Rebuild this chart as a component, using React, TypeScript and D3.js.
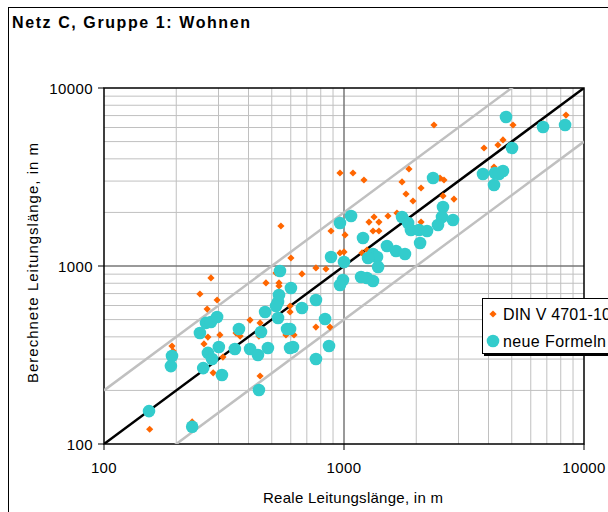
import React from "react";
import * as d3 from "d3";

const cyanX = [154,233,192,190,251,266,279,296,271,282,259,301,310,351,365,406,438,469,451,442,883,1000,541,990,962,601,536,531,521,764,668,531,834,579,596,482,596,613,866,764,2350,1070,962,1745,1850,1900,2054,2218,1200,2075,1510,1647,1795,1321,1373,1259,1387,1178,1247,1321,3794,4258,4217,2585,2560,2464,2846,4732,6750,8340,5012,4424,4597];
const cyanY = [153,125,312,274,420,479,485,517,325,300,267,351,244,342,443,342,316,552,426,201,1124,1053,937,834,782,752,687,628,596,644,581,510,504,443,443,346,346,351,355,300,3120,1910,1744,1885,1744,1592,1592,1573,1436,1346,1296,1214,1168,1168,1124,1109,987,867,857,824,3289,3330,2851,2145,1885,1700,1813,6870,6040,6197,4603,3289,3420];

const orangeX = [279,251,296,269,192,194,261,271,304,355,369,406,447,442,313,285,447,155,233,473,536,536,521,601,668,764,841,596,596,619,573,764,874,962,546,883,1010,962,1000,2371,1090,1211,1865,1745,2094,1813,1938,2394,2512,2610,2585,2872,3831,4380,4597,5060,4217,8414,6750,1525,1334,1271,1398,1662,1321,1398,2094,1189,1247];
const orangeY = [857,696,644,573,355,333,365,399,410,420,404,497,479,404,308,251,241,121,133,803,803,772,914,1109,902,975,962,596,552,410,410,454,454,3330,1678,1573,1494,1184,1199,6197,3330,3042,3506,2966,2742,2538,2318,3162,3120,3042,2474,2378,4603,4783,5106,6197,3597,7047,6282,1910,1885,1766,1766,1985,1573,1573,1766,1184,1230];

const tickValues = [100, 1000, 10000];
const seriesNames = ["DIN V 4701-10", "neue Formeln"];
const title = "Netz C, Gruppe 1: Wohnen";
const xTitle = "Reale Leitungslänge, in m";
const yTitle = "Berechnete Leitungslänge, in m";

const ORANGE = "#FF6600";
const CYAN = "#33CCCC";
const FONT = "Liberation Sans, Arial, sans-serif";

export default function App() {
  const x = d3.scaleLog().domain([100, 10000]).range([104, 584]);
  const y = d3.scaleLog().domain([100, 10000]).range([444, 88]);
  const minor: number[] = [];
  [100, 1000].forEach((d) => {
    for (let k = 2; k <= 9; k++) minor.push(d * k);
  });
  const line = d3.line<[number, number]>().x((d) => x(d[0])).y((d) => y(d[1]));
  const diamond = (cx: number, cy: number, r: number) =>
    `M${cx},${cy - r}L${cx + r},${cy}L${cx},${cy + r}L${cx - r},${cy}Z`;

  return (
    <svg width={608} height={512} style={{ position: "absolute", left: 0, top: 0, background: "#fff" }} fontFamily={FONT}>
      <rect x={0} y={0} width={608} height={512} fill="#fff" />
      <rect x={8.5} y={7.5} width={620} height={520} fill="none" stroke="#000" strokeWidth={1} />
      <text x={12} y={28} fontSize={16} fontWeight="bold" fill="#000" textLength={238} lengthAdjust="spacing">{title}</text>
      <defs>
        <clipPath id="plotclip">
          <rect x={104} y={88} width={480} height={356} />
        </clipPath>
      </defs>
      {minor.map((v) => (
        <g key={"m" + v}>
          <line x1={x(v)} x2={x(v)} y1={88} y2={444} stroke="#c0c0c0" strokeWidth={1} />
          <line x1={104} x2={584} y1={y(v)} y2={y(v)} stroke="#c0c0c0" strokeWidth={1} />
        </g>
      ))}
      <line x1={x(1000)} x2={x(1000)} y1={88} y2={444} stroke="#777" strokeWidth={1.5} />
      <line x1={104} x2={584} y1={y(1000)} y2={y(1000)} stroke="#777" strokeWidth={1.5} />
      <rect x={104} y={88} width={480} height={356} fill="none" stroke="#000" strokeWidth={1.5} />
      {tickValues.map((v) => (
        <g key={"t" + v}>
          <line x1={98} x2={104} y1={y(v)} y2={y(v)} stroke="#000" />
          <line x1={x(v)} x2={x(v)} y1={444} y2={450} stroke="#000" />
          <text x={93} y={y(v) + 5.5} textAnchor="end" fontSize={15} letterSpacing={0.4}>{v}</text>
          <text x={x(v)} y={473} textAnchor="middle" fontSize={15} letterSpacing={0.4}>{v}</text>
        </g>
      ))}
      <g clipPath="url(#plotclip)">
        <path d={line([[100, 200], [10000, 20000]]) || ""} stroke="#c0c0c0" strokeWidth={2.5} fill="none" />
        <path d={line([[100, 50], [10000, 5000]]) || ""} stroke="#c0c0c0" strokeWidth={2.5} fill="none" />
        <path d={line([[100, 100], [10000, 10000]]) || ""} stroke="#000" strokeWidth={2.5} fill="none" />
        {orangeX.map((v, i) => (
          <path key={"o" + i} d={diamond(x(v), y(orangeY[i]), 3.6)} fill={ORANGE} />
        ))}
        {cyanX.map((v, i) => (
          <circle key={"c" + i} cx={x(v)} cy={y(cyanY[i])} r={6.3} fill={CYAN} />
        ))}
      </g>
      <text x={263} y={503} fontSize={15} textLength={180} lengthAdjust="spacing">{xTitle}</text>
      <text transform="translate(38,383) rotate(-90)" fontSize={15} textLength={240} lengthAdjust="spacing">{yTitle}</text>
      <rect x={484} y={300} width={140} height={56} fill="#000" />
      <rect x={482.5} y={298.5} width={140} height={55} fill="#fff" stroke="#000" strokeWidth={1} />
      <path d={diamond(493, 314, 3.6)} fill={ORANGE} />
      <text x={503} y={319.5} fontSize={16} textLength={108} lengthAdjust="spacing">{seriesNames[0]}</text>
      <circle cx={493} cy={341} r={6.3} fill={CYAN} />
      <text x={503} y={346.5} fontSize={16} textLength={103} lengthAdjust="spacing">{seriesNames[1]}</text>
    </svg>
  );
}
